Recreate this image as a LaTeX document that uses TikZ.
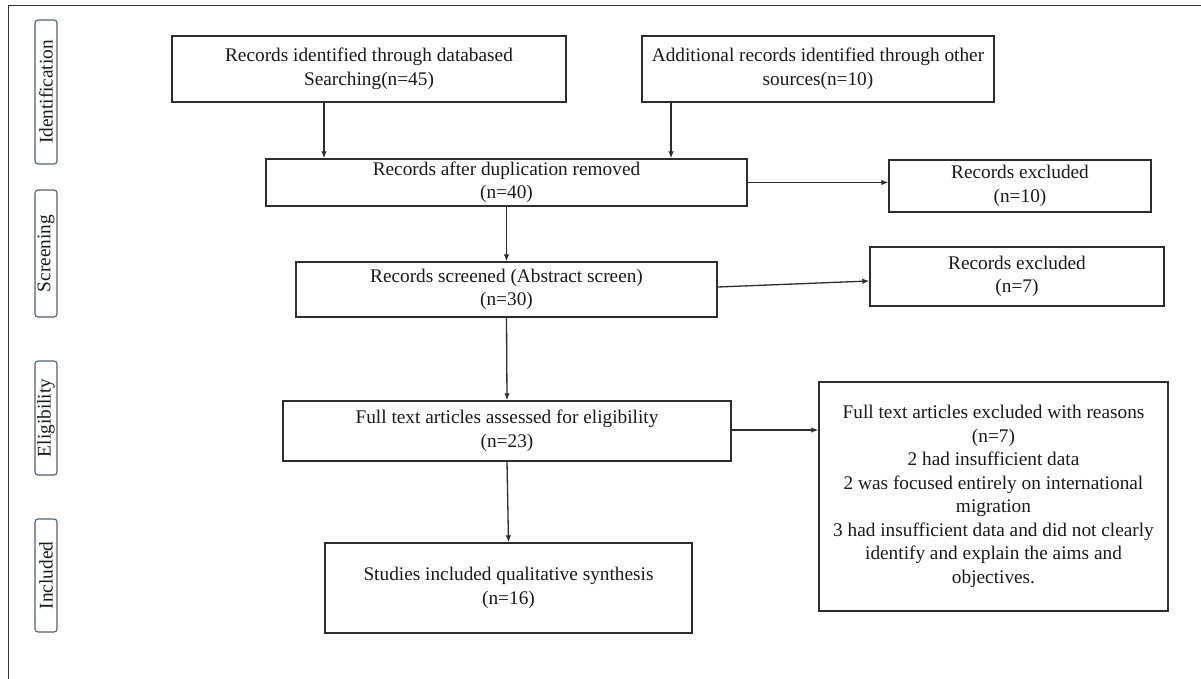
\documentclass[tikz,border=0pt]{standalone}
\usepackage{fontspec}
\setmainfont{Liberation Serif}
\usetikzlibrary{arrows.meta,calc}
\newcommand\diagfont{\fontsize{19.3}{23.5}\selectfont}
\definecolor{boxc}{RGB}{45,45,45}
\definecolor{labc}{RGB}{85,95,115}
\definecolor{txtc}{RGB}{25,25,25}
\begin{document}
\begin{tikzpicture}[x=1pt,y=-1pt,
  box/.style={draw=boxc, line width=1.4pt, inner sep=0pt, align=center, font=\diagfont, text=txtc},
  phase/.style={draw=labc, line width=1.1pt, rounded corners=3pt, inner sep=0pt, rotate=90, font=\diagfont, text=txtc, minimum height=22pt},
  arr/.style={draw=boxc, line width=1.3pt, -{Latex[length=7pt,width=5.5pt]}}]
\useasboundingbox (0,0) rectangle (1201,679);
% outer frame
\coordinate (fTL) at (8.5,5.5);
\coordinate (fTR) at (1201,5.5);
\coordinate (fBL) at (8.5,679);
\draw[boxc, line width=1.8pt] (fBL) -- (fTL) -- (fTR);
% phase labels
\node[phase, minimum width=144pt] (pid) at (46,92) {Identification};
\node[phase, minimum width=127pt] (psc) at (46,253.5) {Screening};
\node[phase, minimum width=114pt] (pel) at (46,418) {Eligibility};
\node[phase, minimum width=113pt] (pin) at (46,575.5) {Included};
% boxes
\node[box, minimum width=394pt, minimum height=66pt] (A) at (369,69) {Records identified through databased\\Searching(n=45)};
\node[box, minimum width=352pt, minimum height=66pt] (B) at (818,69) {Additional records identified through other\\sources(n=10)};
\node[box, minimum width=481pt, minimum height=47pt] (C) at (506.5,182.5) {Records after duplication removed\\(n=40)};
\node[box, minimum width=262pt, minimum height=52pt] (R1) at (1020,186) {Records excluded\\(n=10)};
\node[box, minimum width=421pt, minimum height=55pt] (D) at (506.5,289.5) {Records screened (Abstract screen)\\(n=30)};
\node[box, minimum width=294pt, minimum height=59pt] (R2) at (1017,276.5) {Records excluded\\(n=7)};
\node[box, minimum width=448pt, minimum height=60pt] (E) at (507,431) {Full text articles assessed for eligibility\\(n=23)};
\node[box, minimum width=349pt, minimum height=229pt] (G) at (993.5,496.5) {Full text articles excluded with reasons\\(n=7)\\2 had insufficient data\\2 was focused entirely on international\\migration\\3 had insufficient data and did not clearly\\identify and explain the aims and\\objectives.};
\node[box, minimum width=367pt, minimum height=90pt] (F) at (508.5,588) {Studies included qualitative synthesis\\(n=16)};
% connectors
\coordinate (ax) at (324,0);
\coordinate (bx) at (671,0);
\draw[arr] (A.south -| ax) -- (C.north -| ax);
\draw[arr] (B.south -| bx) -- (C.north -| bx);
\draw[arr] (C.east) -- (C.east -| R1.west);
\draw[arr] (C.south) -- (D.north);
\draw[arr] ([yshift=2.5pt]D.east) -- ([yshift=-4.5pt]R2.west);
\draw[arr] (D.south) -- (E.north);
\draw[arr] ([yshift=1pt]E.east) -- ([yshift=1pt]E.east -| G.west);
\draw[arr] (E.south) -- (F.north);
\end{tikzpicture}
\end{document}
